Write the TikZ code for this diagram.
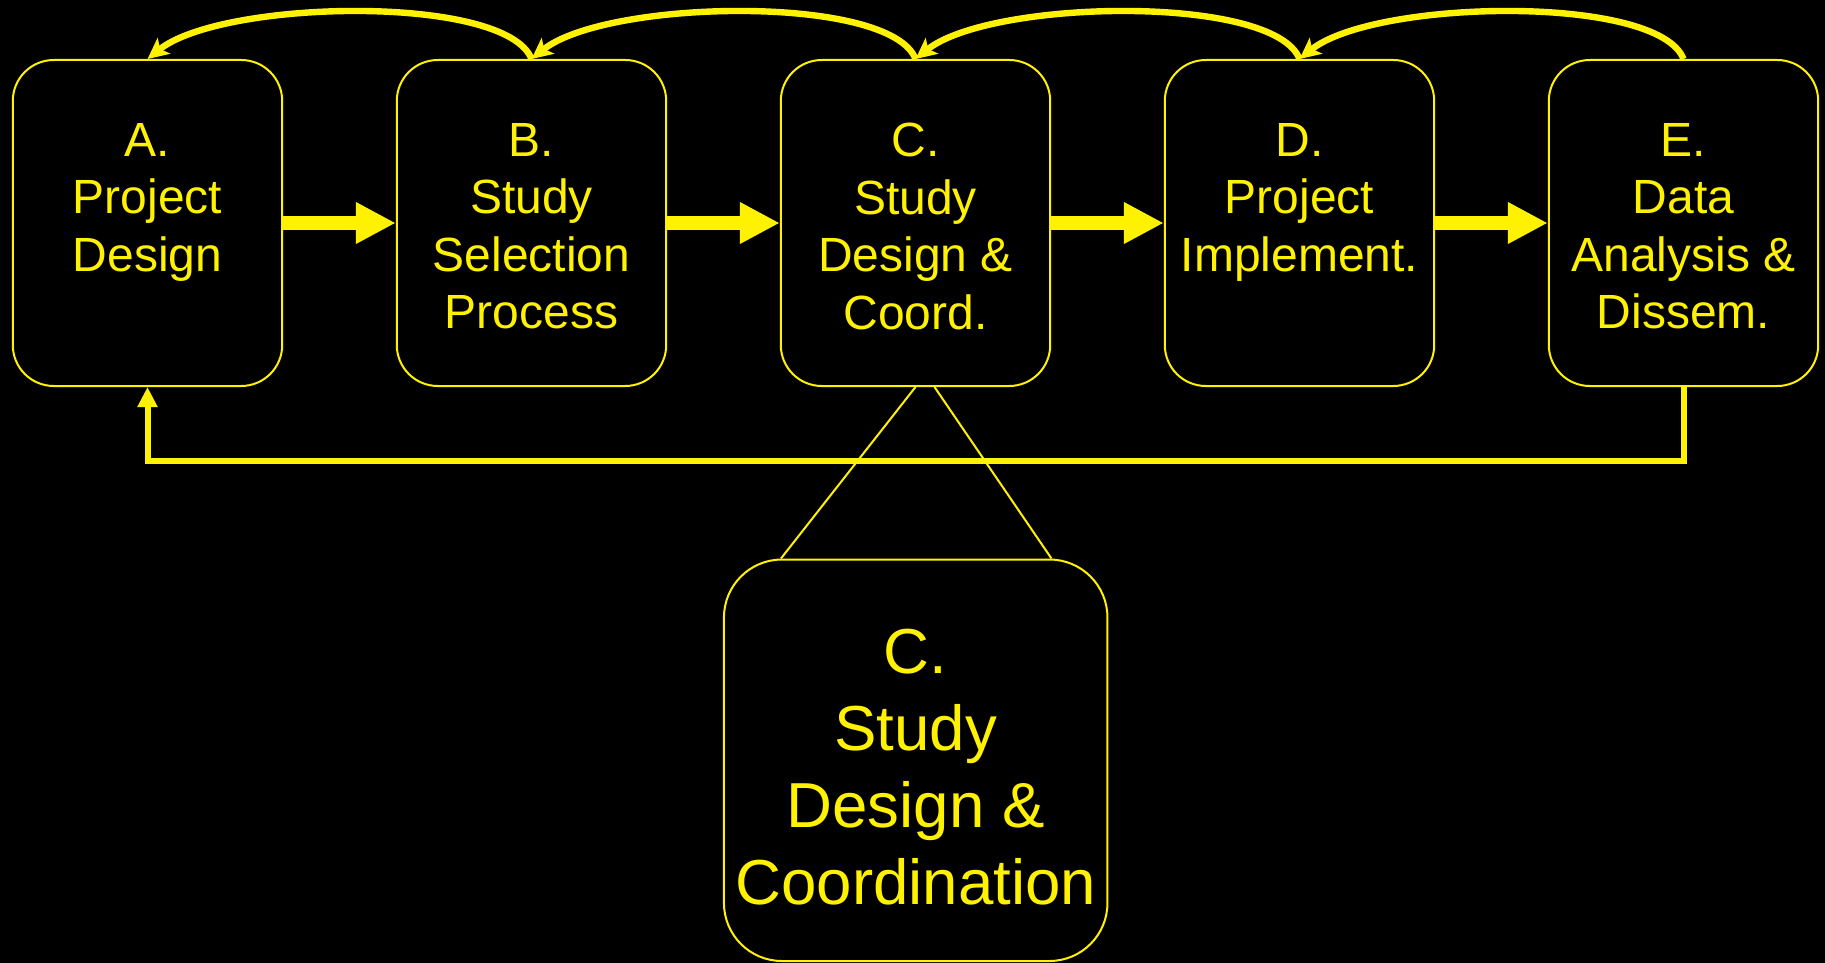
\documentclass[tikz,border=0pt]{standalone}
\usepackage{fontspec}
\setmainfont{Liberation Sans}
\usetikzlibrary{arrows.meta}
\newcommand{\boxtext}[1]{\parbox[c][163pt][t]{134.7pt}{\centering\vspace*{31.5pt}#1}}
\newcommand{\zoomtext}[1]{\parbox[c][200.75pt][t]{191.75pt}{\centering\vspace*{35pt}#1}}

\begin{document}
\begin{tikzpicture}[x=0.5pt,y=0.5pt,yscale=-1,xscale=1,
	stage/.style={draw=yellow,line width=1pt,rounded corners=20.5pt,inner sep=0pt,text=yellow,font=\fontsize{24}{28.75}\selectfont},
	zoombox/.style={draw=yellow,line width=1pt,rounded corners=29pt,inner sep=0pt,text=yellow,font=\fontsize{31.8}{38.35}\selectfont},
	flow/.style={yellow,line width=6.7pt,-{Triangle[length=20pt,width=19.5pt]}},
	revise/.style={yellow,line width=3.2pt,-{Stealth[length=10.5pt,width=10pt,inset=2.5pt]}},
	feedback/.style={yellow,line width=3pt,-{Triangle[length=10pt,width=9.5pt]}},
	link/.style={yellow,line width=1pt}]
	%background, sets the frame 1825 x 963
	\fill [black] (0,0) rectangle (1825,963);
	\useasboundingbox (0,0) rectangle (1825,963);

	%Stage boxes
	\node [stage] (a) at (147.5,223) {\boxtext{A.\\Project\\Design}};
	\node [stage] (b) at (531.5,223) {\boxtext{B.\\Study\\Selection\\Process}};
	\node [stage] (c) at (915.5,223) {\boxtext{C.\\Study\\Design \&\\Coord.}};
	\node [stage] (d) at (1299.5,223) {\boxtext{D.\\Project\\Implement.}};
	\node [stage] (e) at (1683.5,223) {\boxtext{E.\\Data\\Analysis \&\\Dissem.}};

	%Zoomed box for C
	\node [zoombox] (cbig) at (915.7,760.25) {\zoomtext{C.\\Study\\Design \&\\Coordination}};

	%Thin lines C -> zoomed box
	\draw [link] (c.south) -- ([xshift=29pt]cbig.north west);
	\draw [link] ([xshift=9.5pt]c.south) -- ([xshift=-28.5pt]cbig.north east);

	%Forward arrows
	\draw [flow] (a.east) -- (b.west);
	\draw [flow] (b.east) -- (c.west);
	\draw [flow] (c.east) -- (d.west);
	\draw [flow] (d.east) -- (e.west);

	%Backward arcs over the top
	\draw [revise] (b.north) .. controls +(-25,-65) and +(75,-60) .. (a.north);
	\draw [revise] (c.north) .. controls +(-25,-65) and +(75,-60) .. (b.north);
	\draw [revise] (d.north) .. controls +(-25,-65) and +(75,-60) .. (c.north);
	\draw [revise] (e.north) .. controls +(-25,-65) and +(75,-60) .. (d.north);

	%Feedback E -> A
	\draw [feedback] (e.south) -- ++(0,74) -| (a.south);

\end{tikzpicture}
\end{document}
